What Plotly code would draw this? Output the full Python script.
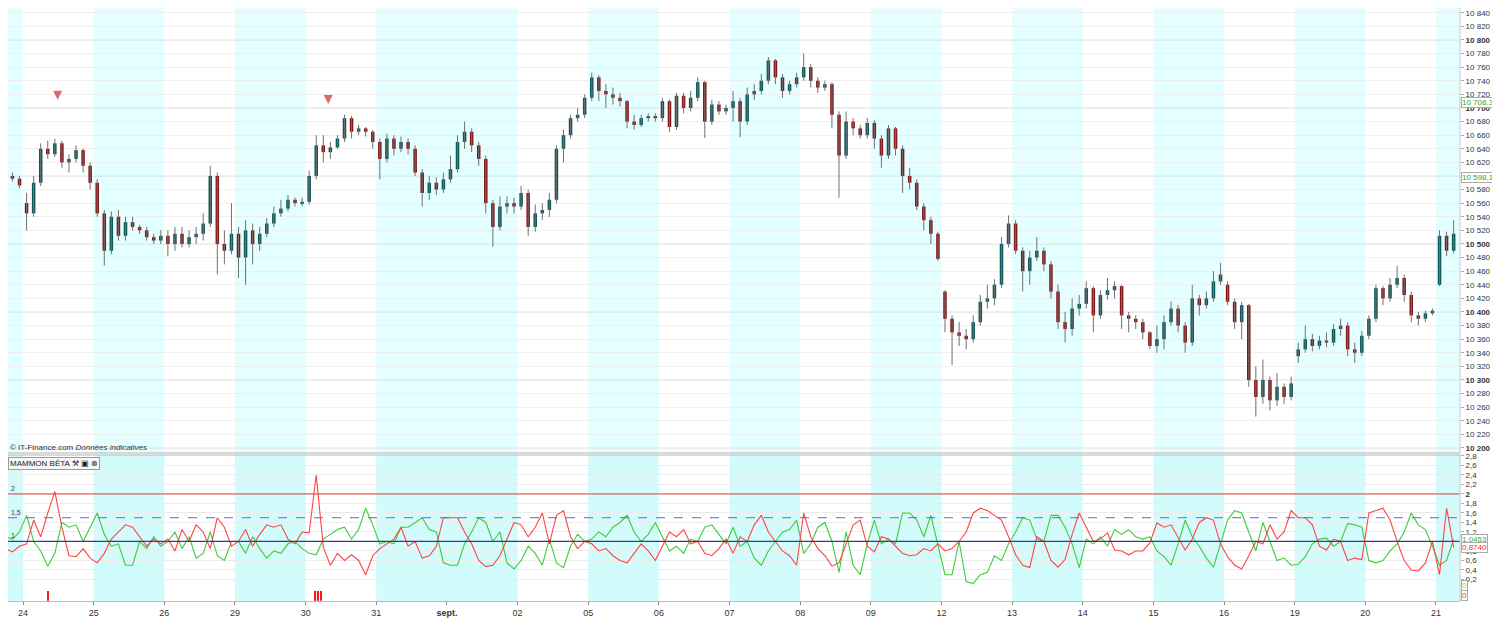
import plotly.graph_objects as go

# --- price candles, 10 per session (index 7..212) ---
opens = [
    10598, 10600, 10596,
    10560, 10545, 10590, 10640, 10632, 10648, 10620, 10625, 10638, 10615,
    10590, 10545, 10490, 10540, 10512, 10532, 10525, 10520, 10510, 10505,
    10512, 10500, 10515, 10500, 10510, 10515, 10530, 10600, 10500, 10490,
    10515, 10480, 10520, 10500, 10515, 10530, 10545, 10552, 10565, 10560,
    10562, 10600, 10645, 10635, 10642, 10655, 10685, 10665, 10670, 10665,
    10650, 10625, 10655, 10640, 10650, 10640, 10605, 10575, 10590, 10580,
    10595, 10610, 10650, 10665, 10645, 10625, 10560, 10525, 10555, 10560,
    10555, 10575, 10525, 10545, 10550, 10565, 10640, 10660, 10685, 10690,
    10715, 10745, 10725, 10720, 10715, 10710, 10680, 10675, 10685, 10688,
    10685, 10710, 10672, 10718, 10700, 10715, 10738, 10680, 10705, 10695,
    10700, 10710, 10680, 10720, 10725, 10740, 10770, 10745, 10725, 10735,
    10745, 10760, 10740, 10730, 10735, 10690, 10630, 10680, 10670, 10660,
    10678, 10655, 10630, 10670, 10640, 10600, 10590, 10555, 10535, 10515,
    10430, 10390, 10370, 10365, 10360, 10385, 10415, 10420, 10440, 10500,
    10530, 10490, 10460, 10480, 10490, 10470, 10430, 10385, 10375, 10405,
    10412, 10435, 10395, 10425, 10432, 10438, 10395, 10390, 10385, 10370,
    10350, 10360, 10385, 10405, 10380, 10355, 10420, 10410, 10420, 10445,
    10440, 10415, 10385, 10410, 10300, 10275, 10300, 10270, 10290, 10275,
    10335, 10345, 10360, 10350, 10358, 10355, 10375, 10380, 10345, 10340,
    10365, 10390, 10435, 10420, 10440, 10450, 10425, 10395, 10390, 10398,
    10440, 10512, 10490,
]
highs = [
    10604, 10605, 10600,
    10575, 10600, 10648, 10652, 10655, 10652, 10632, 10645, 10640, 10620,
    10595, 10550, 10548, 10550, 10540, 10540, 10528, 10525, 10515, 10520,
    10520, 10525, 10525, 10520, 10525, 10545, 10615, 10605, 10520, 10560,
    10525, 10535, 10530, 10525, 10538, 10555, 10565, 10572, 10568, 10568,
    10608, 10660, 10660, 10650, 10660, 10690, 10688, 10675, 10672, 10668,
    10655, 10662, 10660, 10658, 10655, 10645, 10610, 10600, 10598, 10605,
    10630, 10660, 10680, 10670, 10650, 10630, 10565, 10570, 10570, 10568,
    10585, 10580, 10558, 10560, 10575, 10645, 10668, 10690, 10700, 10720,
    10752, 10748, 10735, 10730, 10722, 10712, 10690, 10690, 10692, 10692,
    10715, 10712, 10722, 10722, 10725, 10745, 10740, 10712, 10710, 10705,
    10725, 10715, 10730, 10735, 10750, 10775, 10772, 10750, 10740, 10752,
    10780, 10765, 10745, 10740, 10738, 10695, 10695, 10685, 10675, 10685,
    10682, 10660, 10675, 10672, 10645, 10612, 10595, 10560, 10540, 10518,
    10432, 10395, 10385, 10375, 10395, 10425, 10440, 10448, 10510, 10542,
    10535, 10495, 10490, 10510, 10495, 10475, 10440, 10400, 10420, 10425,
    10445, 10438, 10432, 10450, 10445, 10440, 10400, 10395, 10390, 10372,
    10380, 10395, 10415, 10410, 10385, 10440, 10425, 10430, 10460, 10472,
    10445, 10420, 10415, 10412, 10320, 10330, 10305, 10310, 10295, 10305,
    10355, 10380, 10368, 10365, 10370, 10382, 10390, 10385, 10355, 10372,
    10395, 10440, 10438, 10450, 10468, 10455, 10430, 10400, 10402, 10405,
    10520, 10518, 10535,
]
lows = [
    10590, 10592, 10582,
    10520, 10540, 10585, 10625, 10628, 10612, 10605, 10620, 10605, 10580,
    10540, 10468, 10485, 10505, 10505, 10520, 10515, 10505, 10500, 10500,
    10482, 10490, 10495, 10495, 10500, 10505, 10525, 10455, 10470, 10485,
    10450, 10440, 10470, 10490, 10510, 10525, 10540, 10548, 10555, 10555,
    10558, 10595, 10620, 10625, 10640, 10650, 10655, 10660, 10658, 10640,
    10595, 10620, 10630, 10635, 10632, 10600, 10555, 10565, 10572, 10575,
    10590, 10605, 10640, 10635, 10615, 10545, 10496, 10520, 10545, 10545,
    10550, 10512, 10518, 10535, 10540, 10560, 10620, 10655, 10680, 10685,
    10710, 10710, 10700, 10705, 10702, 10670, 10668, 10672, 10680, 10680,
    10680, 10665, 10668, 10692, 10695, 10710, 10656, 10675, 10690, 10690,
    10680, 10657, 10675, 10712, 10720, 10735, 10735, 10715, 10720, 10730,
    10740, 10730, 10722, 10725, 10670, 10568, 10625, 10660, 10655, 10655,
    10640, 10612, 10625, 10630, 10575, 10580, 10550, 10520, 10500, 10475,
    10370, 10322, 10350, 10345, 10355, 10380, 10405, 10410, 10435, 10495,
    10485, 10430, 10440, 10475, 10460, 10420, 10375, 10355, 10365, 10395,
    10405, 10370, 10390, 10418, 10420, 10375, 10370, 10375, 10360, 10345,
    10340, 10345, 10380, 10370, 10340, 10350, 10395, 10405, 10415, 10440,
    10410, 10375, 10360, 10290, 10246, 10265, 10255, 10262, 10265, 10270,
    10325, 10340, 10342, 10345, 10348, 10350, 10365, 10335, 10325, 10335,
    10360, 10385, 10410, 10415, 10435, 10415, 10385, 10380, 10385, 10395,
    10438, 10482, 10486,
]
closes = [
    10600, 10596, 10586,
    10545, 10590, 10640, 10632, 10648, 10620, 10625, 10638, 10615, 10590,
    10545, 10490, 10540, 10512, 10532, 10525, 10520, 10510, 10505, 10512,
    10500, 10515, 10500, 10510, 10515, 10530, 10600, 10500, 10490, 10515,
    10480, 10520, 10500, 10515, 10530, 10545, 10552, 10565, 10560, 10562,
    10600, 10645, 10635, 10642, 10655, 10685, 10665, 10670, 10665, 10650,
    10625, 10655, 10640, 10650, 10640, 10605, 10575, 10590, 10580, 10595,
    10610, 10650, 10665, 10645, 10625, 10560, 10525, 10555, 10560, 10555,
    10575, 10525, 10545, 10550, 10565, 10640, 10660, 10685, 10690, 10715,
    10745, 10725, 10720, 10715, 10710, 10680, 10675, 10685, 10688, 10685,
    10710, 10672, 10718, 10700, 10715, 10738, 10680, 10705, 10695, 10700,
    10710, 10680, 10720, 10725, 10740, 10770, 10745, 10725, 10735, 10745,
    10760, 10740, 10730, 10735, 10690, 10630, 10680, 10670, 10660, 10678,
    10655, 10630, 10670, 10640, 10600, 10590, 10555, 10535, 10515, 10478,
    10390, 10370, 10365, 10360, 10385, 10415, 10420, 10440, 10500, 10530,
    10490, 10460, 10480, 10490, 10470, 10430, 10385, 10375, 10405, 10412,
    10435, 10395, 10425, 10432, 10438, 10395, 10390, 10385, 10370, 10350,
    10360, 10385, 10405, 10380, 10355, 10420, 10410, 10420, 10445, 10455,
    10415, 10385, 10410, 10300, 10275, 10300, 10270, 10290, 10275, 10295,
    10345, 10360, 10350, 10358, 10355, 10375, 10380, 10345, 10340, 10365,
    10390, 10435, 10420, 10440, 10450, 10425, 10395, 10390, 10398, 10402,
    10512, 10490, 10515,
]

# --- MAMMON BETA lines ---
beta_red = [
    0.85, 0.78, 0.9,
    0.95, 1.45, 1.1, 1.6, 2.05, 1.3, 0.7, 0.68, 0.85, 0.65,
    0.55, 0.75, 1.05, 1.2, 1.35, 1.3, 1.1, 0.9, 1.05, 0.95,
    1.05, 0.8, 1.25, 1.0, 1.35, 1.2, 0.85, 1.5, 1.3, 0.9,
    1.0, 1.25, 0.9, 1.15, 1.35, 1.3, 1.35, 1.05, 0.95, 1.2,
    1.18, 2.4, 0.88, 0.5, 0.75, 0.6, 0.72, 0.6, 0.3, 0.7,
    0.85, 0.95, 1.05, 1.3, 0.9, 1.0, 0.65, 0.7, 0.9, 1.5,
    1.5, 1.5, 1.2, 0.95, 0.6, 0.47, 0.5, 0.7, 1.05, 1.4,
    1.35, 1.1, 1.3, 1.6, 0.95, 1.55, 1.65, 1.1, 0.85, 1.0,
    0.95, 0.8, 0.85, 0.7, 0.6, 0.55, 0.75, 0.95, 0.8, 0.6,
    0.9, 1.2, 1.1, 1.25, 0.95, 1.0, 0.75, 0.7, 0.85, 1.05,
    0.75, 1.1, 1.0, 1.35, 1.55, 1.2, 1.0, 0.8, 0.7, 0.5,
    1.6, 1.1, 0.85, 0.7, 0.48, 0.55, 0.95, 1.35, 1.45, 0.9,
    0.78, 1.1, 1.05, 0.9, 0.75, 0.7, 0.72, 0.85, 0.8, 0.95,
    0.8, 0.85, 1.0, 1.2, 1.6, 1.7, 1.65, 1.55, 1.45, 1.1,
    0.72, 0.5, 0.45, 1.1, 1.0, 0.6, 0.46, 0.62, 1.15, 1.6,
    1.3, 1.0, 1.05, 1.18, 0.82, 0.8, 0.72, 0.8, 0.8, 0.97,
    1.39, 1.3, 1.35, 1.1, 0.82, 1.05, 1.4, 1.5, 1.45, 0.95,
    0.68, 0.5, 0.42, 0.7, 1.0, 0.95, 1.35, 1.05, 1.2, 1.65,
    1.5, 1.5, 1.35, 0.9, 0.82, 1.05, 1.0, 0.6, 0.65, 0.62,
    1.6, 1.65, 1.7, 1.45, 1.0, 0.6, 0.4, 0.38, 0.55, 1.0,
    0.3, 1.7, 0.874,
]
beta_green = [
    1.1, 1.05, 1.2,
    1.55, 1.0, 0.8, 0.48, 0.75, 1.4, 1.3, 1.35, 1.0, 1.3,
    1.6, 1.15, 0.9, 0.95, 0.5, 0.5, 1.0, 0.85, 1.1, 0.9,
    1.0, 1.2, 0.85, 1.1, 0.65, 0.75, 1.2, 0.7, 0.6, 1.0,
    1.0, 0.75, 1.1, 0.85, 0.65, 0.8, 0.75, 0.95, 1.0, 0.85,
    0.75, 0.72, 1.05, 1.15, 1.25, 1.3, 1.05, 1.25, 1.7, 1.35,
    0.95, 1.0, 0.95, 1.3, 1.3, 1.4, 1.5, 1.25, 1.2, 0.55,
    0.5, 0.5, 0.95, 1.2, 1.5, 1.4, 1.0, 1.2, 0.55, 0.42,
    0.6, 0.9, 0.75, 0.5, 1.05, 0.55, 0.45, 0.9, 1.15, 1.0,
    1.05, 1.2, 1.1, 1.3, 1.4, 1.55, 1.2, 1.0, 1.15, 1.4,
    1.1, 0.8, 0.9, 0.75, 1.05, 1.0, 1.3, 1.35, 1.15, 0.95,
    1.3, 0.9, 1.0, 0.65, 0.5, 0.8, 1.0, 1.2, 1.25, 1.45,
    0.75, 0.95, 1.3, 1.4, 1.0, 0.35, 1.2, 0.5, 0.3, 0.95,
    1.45, 0.95, 1.05, 0.95, 1.6, 1.6, 1.45, 1.1, 1.55, 0.9,
    0.3, 0.3, 1.0, 0.15, 0.12, 0.3, 0.35, 0.7, 0.6, 0.95,
    1.2, 1.5, 1.45, 1.05, 1.0, 1.55, 1.55, 1.3, 0.95, 0.45,
    1.05, 0.95, 1.1, 0.9, 1.25, 1.15, 1.25, 1.1, 1.05, 1.1,
    0.8, 0.68, 0.5, 0.95, 1.45, 1.1, 0.9, 0.65, 0.46, 0.95,
    1.45, 1.65, 1.6, 1.2, 0.8, 1.4, 1.0, 0.6, 0.65, 0.5,
    0.52, 0.68, 0.95, 1.05, 1.07, 0.9, 1.0, 1.38, 1.35, 1.3,
    0.6, 0.55, 0.6, 0.8, 0.95, 1.2, 1.6, 1.35, 1.25, 0.9,
    0.5, 0.6, 1.0453,
]

day_labels = ["24", "25", "26", "29", "30", "31", "sept.", "02", "05", "06", "07",
              "08", "09", "12", "13", "14", "15", "16", "19", "20", "21"]
cyan_days = [0, 2, 4, 6, 7, 9, 11, 13, 15, 17, 19, 21]
signal_x = [13, 50.9, 51.3, 51.7]
arrow_x = [14.4, 52.7]
arrow_y = [10712, 10706]
price_marks = [10708.3, 10598.1]

PER_DAY = 10
first = 7
idx = list(range(first, first + len(closes)))
# the page body keeps an 8px margin, so the figure is sized 8px smaller
# and the first 8px of the view are trimmed from the ranges
x_range = [7.37, 212.9]
FONT = "Liberation Sans, Arial, sans-serif"
PLOT_H = 593

fig = go.Figure()

# wicks
wx, wy = [], []
for i, h, l in zip(idx, highs, lows):
    wx += [i, i, None]
    wy += [l, h, None]
fig.add_trace(go.Scatter(x=wx, y=wy, mode="lines", line=dict(color="#707070", width=1),
                         hoverinfo="skip", showlegend=False, xaxis="x", yaxis="y"))

# bodies
base = [min(o, c) for o, c in zip(opens, closes)]
height = [max(abs(c - o), 1.5) for o, c in zip(opens, closes)]
colors = ["#0f5a5c" if c >= o else "#861818" for o, c in zip(opens, closes)]
fig.add_trace(go.Bar(x=idx, y=height, base=base, width=0.5, marker=dict(color=colors, line_width=0),
                     showlegend=False, xaxis="x", yaxis="y"))

# signal arrows
fig.add_trace(go.Scatter(x=arrow_x, y=arrow_y, mode="markers",
                         marker=dict(symbol="arrow-down", size=9, color="#e06a6a", line_width=0),
                         showlegend=False, xaxis="x", yaxis="y"))

# indicator
fig.add_trace(go.Scatter(x=idx, y=beta_green, mode="lines", line=dict(color="#3ccc3c", width=1.1),
                         showlegend=False, xaxis="x2", yaxis="y2"))
fig.add_trace(go.Scatter(x=idx, y=beta_red, mode="lines", line=dict(color="#ff4444", width=1.1),
                         showlegend=False, xaxis="x2", yaxis="y2"))
fig.add_trace(go.Bar(x=signal_x, y=[0.21] * len(signal_x), base=-0.25, width=0.18,
                     marker=dict(color="#ee1c1c", line_width=0), showlegend=False,
                     xaxis="x2", yaxis="y2"))

shapes = []
for d in cyan_days:
    x0 = d * PER_DAY - 0.5
    x1 = x0 + PER_DAY
    shapes.append(dict(type="rect", xref="x", yref="y domain", x0=x0, x1=x1, y0=0, y1=1,
                       fillcolor="#e3ffff", line_width=0, layer="below"))
    shapes.append(dict(type="rect", xref="x2", yref="y2 domain", x0=x0, x1=x1, y0=0, y1=1,
                       fillcolor="#d2fbfb", line_width=0, layer="below"))
for v in range(10200, 10900, 100):
    shapes.append(dict(type="line", xref="x domain", yref="y", x0=0, x1=1, y0=v, y1=v,
                       line=dict(color="#d6d6d6", width=1), layer="below"))
shapes += [
    dict(type="line", xref="x2 domain", yref="y2", x0=0, x1=1, y0=2, y1=2,
         line=dict(color="#e23a3a", width=1)),
    dict(type="line", xref="x2 domain", yref="y2", x0=0, x1=1, y0=1.5, y1=1.5,
         line=dict(color="#5566ee", width=1, dash="dash")),
    dict(type="line", xref="x2 domain", yref="y2", x0=0, x1=1, y0=1, y1=1,
         line=dict(color="#2f3aa0", width=1.2)),
]
up_lo = (PLOT_H - 445) / PLOT_H
lo_hi = (PLOT_H - 447) / PLOT_H
shapes += [
    dict(type="line", xref="paper", yref="paper", x0=0, x1=1, y0=up_lo, y1=up_lo,
         line=dict(color="#b5b5b5", width=1)),
    dict(type="line", xref="paper", yref="paper", x0=0, x1=1, y0=lo_hi, y1=lo_hi,
         line=dict(color="#b5b5b5", width=1)),
    dict(type="line", xref="paper", yref="paper", x0=1, x1=1, y0=0, y1=1,
         line=dict(color="#c8c8c8", width=1)),
]

# axis ticks
p_vals = list(range(10200, 10860, 20))
p_text = []
for v in p_vals:
    s = f"{v // 1000} {v % 1000:03d}"
    p_text.append(f"<b>{s}</b>" if v % 100 == 0 else s)
b_vals = [round(0.2 * k, 1) for k in range(1, 15)]
b_text = []
for v in b_vals:
    s = f"{v:g}".replace(".", ",")
    b_text.append(f"<b>{s}</b>" if v == 2 else s)
day_ticks = [d * PER_DAY - 0.5 for d in range(1, len(day_labels) + 1)]
day_text = [f"<b>{t}</b>" if t == "sept." else t for t in day_labels]

annotations = []
for v in price_marks:
    annotations.append(dict(xref="paper", yref="y", x=1, y=v, xanchor="left", xshift=1,
                            text=f"{int(v) // 1000} {int(v) % 1000:03d},{str(v).split('.')[1]}",
                            showarrow=False, font=dict(color="#2fa82f", size=8),
                            bgcolor="white", bordercolor="#aaaaaa", borderwidth=1, borderpad=0))
last_vals = [(beta_green[-1], "1,0453", "#2fb82f"), (beta_red[-1], "0,8740", "#ee3333"),
             (0.07, "0", "#8fd94a"), (-0.13, "0", "#ee3333")]
for v, t, c in last_vals:
    annotations.append(dict(xref="paper", yref="y2", x=1, y=v, xanchor="left", xshift=1, text=t,
                            showarrow=False, font=dict(color=c, size=8),
                            bgcolor="white", bordercolor="#aaaaaa", borderwidth=1, borderpad=0))
for v, t in [(2, "2"), (1.5, "1,5"), (1, "1")]:
    annotations.append(dict(xref="paper", yref="y2", x=0, y=v, xanchor="left", yanchor="bottom",
                            xshift=1, text=t, showarrow=False, font=dict(size=7, color="#444")))
annotations.append(dict(xref="paper", yref="paper", x=0, y=up_lo, xanchor="left", yanchor="bottom",
                        yshift=-1, text="© IT-Finance.com <i>Données indicatives</i>",
                        showarrow=False, font=dict(size=8, color="#333")))
annotations.append(dict(xref="paper", yref="paper", x=0, y=lo_hi, xanchor="left", yanchor="top",
                        yshift=-2, text="MAMMON BÊTA ⚒ ▣ ⊗", showarrow=False,
                        font=dict(size=8, color="#222"), bgcolor="#f7f7f7",
                        bordercolor="#9a9a9a", borderwidth=1, borderpad=1))

fig.update_layout(
    width=1492, height=611,
    margin=dict(l=0, r=40, t=0, b=18, autoexpand=False),
    paper_bgcolor="white", plot_bgcolor="white",
    font=dict(family=FONT, size=9, color="#333"),
    barmode="overlay", hovermode=False,
    shapes=shapes, annotations=annotations,
    xaxis=dict(domain=[0, 1], anchor="y", range=x_range, showticklabels=False,
               showgrid=False, zeroline=False, automargin=False),
    yaxis=dict(domain=[up_lo, 1], anchor="x", side="right", range=[10192.6, 10847.0],
               tickvals=p_vals, ticktext=p_text, showgrid=True, gridcolor="#efefef",
               zeroline=False, ticks="outside", ticklen=3, tickcolor="#aaa",
               tickfont=dict(size=8), automargin=False),
    xaxis2=dict(domain=[0, 1], anchor="y2", range=x_range, matches="x",
                tickvals=day_ticks, ticktext=day_text, showgrid=False, zeroline=False,
                ticks="outside", ticklen=3, tickcolor="#888", showline=True, linecolor="#bbb",
                tickfont=dict(size=9, color="#333"), automargin=False),
    yaxis2=dict(domain=[0, lo_hi], anchor="x2", side="right", range=[-0.253, 2.82],
                tickvals=b_vals, ticktext=b_text, showgrid=True, gridcolor="#ececec",
                zeroline=False, ticks="outside", ticklen=3, tickcolor="#aaa",
                tickfont=dict(size=8), automargin=False),
)

fig.write_html("out.html")
